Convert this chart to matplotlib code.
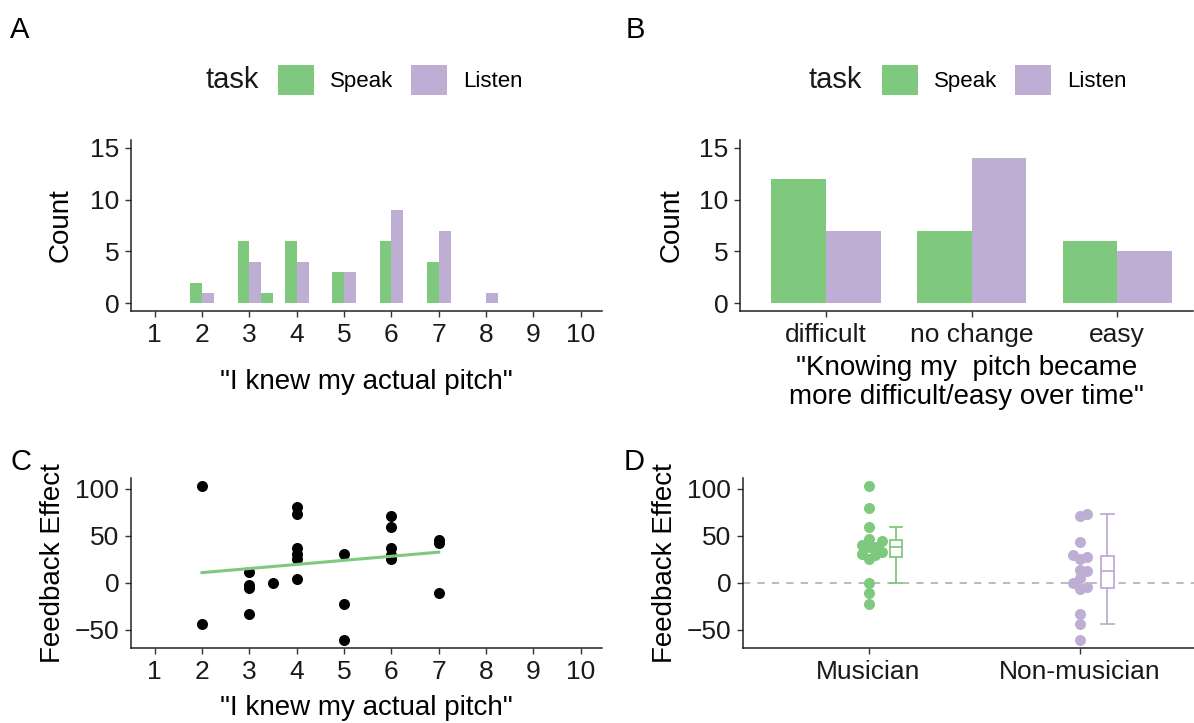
import numpy as np
import matplotlib.pyplot as plt
from matplotlib.patches import Patch

plt.rcParams['font.family'] = ['Liberation Sans', 'DejaVu Sans']

GREEN = '#7FC97F'
PURPLE = '#BEAED4'

# A: rating counts for "I knew my actual pitch"
speak_ratings = [2, 3, 3.5, 4, 5, 6, 7]
speak_counts = [2, 6, 1, 6, 3, 6, 4]
listen_ratings = [2, 3, 4, 5, 6, 7, 8]
listen_counts = [1, 4, 4, 3, 9, 7, 1]

# B: change in difficulty over time
change_labels = ['difficult', 'no change', 'easy']
change_speak = [12, 7, 6]
change_listen = [7, 14, 5]

# C: feedback effect against rating
pitch_rating = [2, 2, 3, 3, 3, 3, 3.5, 4, 4, 4, 4, 4, 4,
                5, 5, 5, 6, 6, 6, 6, 6, 7, 7, 7]
feedback_effect = [103, -44, 11, -2, -6, -33, 0, 81, 73, 37, 31, 25, 4,
                   31, -23, -61, 71, 59, 37, 30, 25, 46, 42, -11]

# D: feedback effect by musical background
group_labels = ['Musician', 'Non-musician']
musician_effect = [-23, -11, 0, 25, 29, 31, 33, 38, 38, 40, 44, 47, 59, 80, 103]
nonmusician_effect = [-61, -44, -33, -7, -5, 0, 5, 13, 14, 25, 27, 29, 43, 71, 73]

W, H = 1194, 723
fig = plt.figure(figsize=(W / 100, H / 100), dpi=100)


def px_axes(left, top, right, bottom):
    return fig.add_axes([left / W, 1 - bottom / H, (right - left) / W, (bottom - top) / H])


def classic(ax):
    for s in ['top', 'right']:
        ax.spines[s].set_visible(False)
    for s in ['left', 'bottom']:
        ax.spines[s].set_linewidth(1.1)
        ax.spines[s].set_color('#222222')
    ax.tick_params(direction='out', length=4.5, width=1.0, color='#333333',
                   labelsize=19, labelcolor='#1a1a1a', pad=4)


def swarm(values, center, step=0.032, gap=8.5):
    placed = []
    xs = []
    for v in values:
        for k in [0, 1, -1, 2, -2, 3, -3]:
            x = center + k * step
            if all(abs(x - px) > step * 0.9 or abs(v - py) > gap for px, py in placed):
                break
        placed.append((x, v))
        xs.append(x)
    return xs


def task_legend(x_title, x_center):
    handles = [Patch(facecolor=GREEN, edgecolor='none', label='Speak'),
               Patch(facecolor=PURPLE, edgecolor='none', label='Listen')]
    fig.legend(handles=handles, loc='center', bbox_to_anchor=(x_center / W, 1 - 80 / H),
               ncol=2, frameon=False, fontsize=16, handlelength=1.65, handleheight=1.65,
               handletextpad=0.7, columnspacing=0.8, borderpad=0, borderaxespad=0)
    fig.text(x_title / W, 1 - 80 / H, 'task', fontsize=21, ha='right', va='center',
             color='#1a1a1a')


# panel A
axA = px_axes(131, 140, 602, 311)
classic(axA)
axA.bar(np.array(speak_ratings) - 0.125, speak_counts, width=0.25, color=GREEN)
axA.bar(np.array(listen_ratings) + 0.125, listen_counts, width=0.25, color=PURPLE)
axA.set_xlim(0.5, 10.45)
axA.set_ylim(-0.75, 15.75)
axA.set_xticks(range(1, 11))
axA.set_yticks([0, 5, 10, 15])
axA.set_ylabel('Count', fontsize=20, labelpad=12)
axA.set_xlabel('"I knew my actual pitch"', fontsize=20, labelpad=16)
task_legend(259, 400)

# panel B
axB = px_axes(740, 140, 1193, 311)
classic(axB)
pos = np.arange(1, len(change_labels) + 1)
axB.bar(pos - 0.1875, change_speak, width=0.375, color=GREEN)
axB.bar(pos + 0.1875, change_listen, width=0.375, color=PURPLE)
axB.set_xlim(0.41, 3.52)
axB.set_ylim(-0.75, 15.75)
axB.set_xticks(pos)
axB.set_xticklabels(change_labels)
axB.set_yticks([0, 5, 10, 15])
axB.set_ylabel('Count', fontsize=20, labelpad=10)
axB.set_xlabel('"Knowing my  pitch became\nmore difficult/easy over time"',
               fontsize=20, labelpad=6, linespacing=1.15)
task_legend(862, 1004)

# panel C
axC = px_axes(131, 478, 602, 648)
classic(axC)
axC.scatter(pitch_rating, feedback_effect, s=48, color='black', zorder=2)
slope, intercept = np.polyfit(pitch_rating, feedback_effect, 1)
xfit = np.array([min(pitch_rating), max(pitch_rating)])
axC.plot(xfit, slope * xfit + intercept, color=GREEN, lw=2.2, zorder=3)
axC.set_xlim(0.5, 10.45)
axC.set_ylim(-69.5, 111.5)
axC.set_xticks(range(1, 11))
axC.set_yticks([-50, 0, 50, 100])
axC.set_ylabel('Feedback Effect', fontsize=20, labelpad=6)
axC.set_xlabel('"I knew my actual pitch"', fontsize=20, labelpad=8)

# panel D
axD = px_axes(743, 478, 1194, 648)
classic(axD)
axD.axhline(0, color='#b5b5b5', lw=1.3, dashes=(4, 4), zorder=0)
for i, (vals, col) in enumerate([(musician_effect, GREEN), (nonmusician_effect, PURPLE)]):
    c = i + 1
    axD.scatter(swarm(sorted(vals), c), sorted(vals), s=48, color=col, zorder=2)
    axD.boxplot(vals, positions=[c + 0.13], widths=0.06, showfliers=False,
                patch_artist=True, capwidths=0.06,
                boxprops=dict(facecolor='white', edgecolor=col, lw=1.3),
                medianprops=dict(color=col, lw=1.3),
                whiskerprops=dict(color=col, lw=1.3),
                capprops=dict(color=col, lw=1.3))
axD.set_xlim(0.406, 2.54)
axD.set_ylim(-69.5, 111.5)
axD.set_xticks([1, 2])
axD.set_xticklabels(group_labels)
axD.set_yticks([-50, 0, 50, 100])
axD.set_ylabel('Feedback Effect', fontsize=20, labelpad=6)

for label, x, y in [('A', 10, 30), ('B', 626, 30), ('C', 10, 462), ('D', 624, 462)]:
    fig.text(x / W, 1 - y / H, label, fontsize=21, ha='left', va='center', color='black')

fig.savefig('out.png', dpi=100)
